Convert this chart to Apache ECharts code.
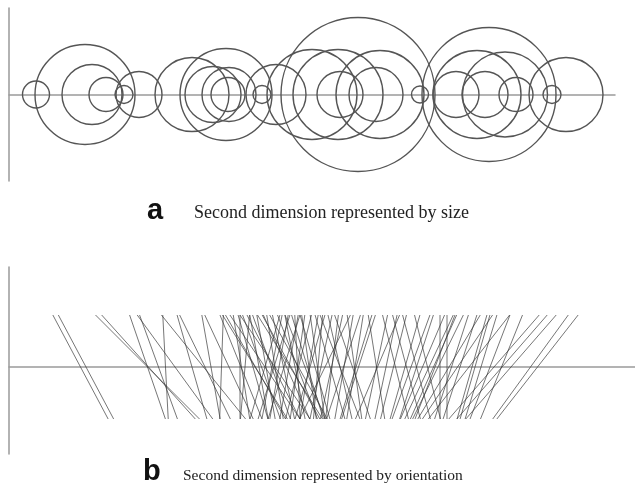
<!DOCTYPE html>
<html><head><meta charset="utf-8">
<script src="https://cdn.jsdelivr.net/npm/echarts@6/dist/echarts.min.js"></script>
<style>html,body{margin:0;padding:0;background:#fff}#c{width:635px;height:499px}</style>
</head><body><div id="c"></div>
<script>
// Panel a: position along first dimension, radius = second dimension
const circlePos = [27,76,83,97,115,130,183,217,204,220,219,253,267,303,329,331,349,367,371,411,468,480,447,476,496,507,543,557];
const circleSize = [13.5,50,30,17,9,23,37,46,28,27,17,9,30,45,45,23,77,27,44,8.5,44,67,23,23,42.5,17,9,37];
// Panel b: position along first dimension, orientation (degrees) = second dimension
const linePos = [71.5,77,138.5,139.5,138.5,166,149.5,194.5,156.5,183,196,202,220,212.5,246,244,252.5,264.5,250,262.5,257,277.5,266,274.5,288.5,263,286,270,298.5,288.5,280,300,288.5,308.5,321,300,309,331,312,322.5,345.5,335,346,367.5,367.5,397.5,377,407.5,384.5,418.5,396,407.5,413.5,438,420,424.5,429,442.5,451,440,463,448.5,472,460,481,492.5,485,493,502,521.5,528.5,256,266,281,289.5,265,275,289.5,256,301,236,232,232.5,323,334.5,349.5,386.5,316,347,331,343.5,368.5,402,431,426,306,296,231,246.5,282,466];
const lineAngle = [118,118,135,132,109,126,110,129,93,106,116,100,115,88,122,106,110,117,100,110,100,114,99,102,111,79,101,80,107,93,80,98,82,98,106,80,85,103,78,78,98,80,81,99,78,105,78,105,76,104,74,72,67,90,65,66,64,72,72,59,74,56,73,52,69,68,49,49,49,54,52,124,124,122,119,73,73,76,74,74,85,112,99,83,72,72,104,64,73,111,109,67,70,90,69,106,111,90,120,119,74];
const captionA = ['a', 'Second dimension represented by size'];
const captionB = ['b', 'Second dimension represented by orientation'];

const chart = echarts.init(document.getElementById('c'), null, {renderer:'canvas'});
const axisCol = '#9a9a9a';
const hideBits = {axisTick:{show:false}, axisLabel:{show:false}, splitLine:{show:false}};
const option = {
  animation:false,
  grid:[
    {left:9, top:8, width:606, height:173},
    {left:9, top:267, width:626, height:187}
  ],
  xAxis:[
    Object.assign({type:'value', gridIndex:0, min:0, max:606, axisLine:{show:true, onZero:true, lineStyle:{color:axisCol, width:1.5}}}, hideBits),
    Object.assign({type:'value', gridIndex:1, min:0, max:626, axisLine:{show:true, onZero:true, lineStyle:{color:axisCol, width:1.5}}}, hideBits)
  ],
  yAxis:[
    Object.assign({type:'value', gridIndex:0, min:-86.5, max:86.5, axisLine:{show:true, onZero:false, lineStyle:{color:axisCol, width:1.5}}}, hideBits),
    Object.assign({type:'value', gridIndex:1, min:-87, max:100, axisLine:{show:true, onZero:false, lineStyle:{color:axisCol, width:1.5}}}, hideBits)
  ],
  graphic:[
    {type:'text', left:147, top:196, style:{text:captionA[0], font:'bold 29px "Liberation Sans", Arial, sans-serif', fill:'#111'}},
    {type:'text', left:194, top:204, style:{text:captionA[1], font:'18px "Liberation Serif", "Times New Roman", serif', fill:'#222'}},
    {type:'text', left:143, top:457, style:{text:captionB[0], font:'bold 29px "Liberation Sans", Arial, sans-serif', fill:'#111'}},
    {type:'text', left:183, top:468, style:{text:captionB[1], font:'15.5px "Liberation Serif", "Times New Roman", serif', fill:'#222'}}
  ],
  series:[
    {
      type:'custom', xAxisIndex:0, yAxisIndex:0, z:3,
      data: circlePos.map((p,i)=>[p, circleSize[i]]),
      renderItem:function(params, api){
        const c = api.coord([api.value(0), 0]);
        const r = api.size([api.value(1), 0])[0];
        return {type:'circle', shape:{cx:c[0], cy:c[1], r:r}, style:{fill:null, stroke:'#555', lineWidth:1.4}};
      }
    },
    {
      type:'custom', xAxisIndex:1, yAxisIndex:1, z:3,
      data: linePos.map((p,i)=>[p, lineAngle[i]]),
      renderItem:function(params, api){
        const x = api.value(0);
        const a = api.value(1) * Math.PI / 180;
        const half = 52;
        const dx = half * Math.cos(a) / Math.sin(a);
        const p1 = api.coord([x + dx, half]);
        const p2 = api.coord([x - dx, -half]);
        return {type:'line', shape:{x1:p1[0], y1:p1[1], x2:p2[0], y2:p2[1]}, style:{stroke:'#333', lineWidth:0.9, opacity:0.75}};
      }
    }
  ]
};
chart.setOption(option);
</script>
</body></html>
